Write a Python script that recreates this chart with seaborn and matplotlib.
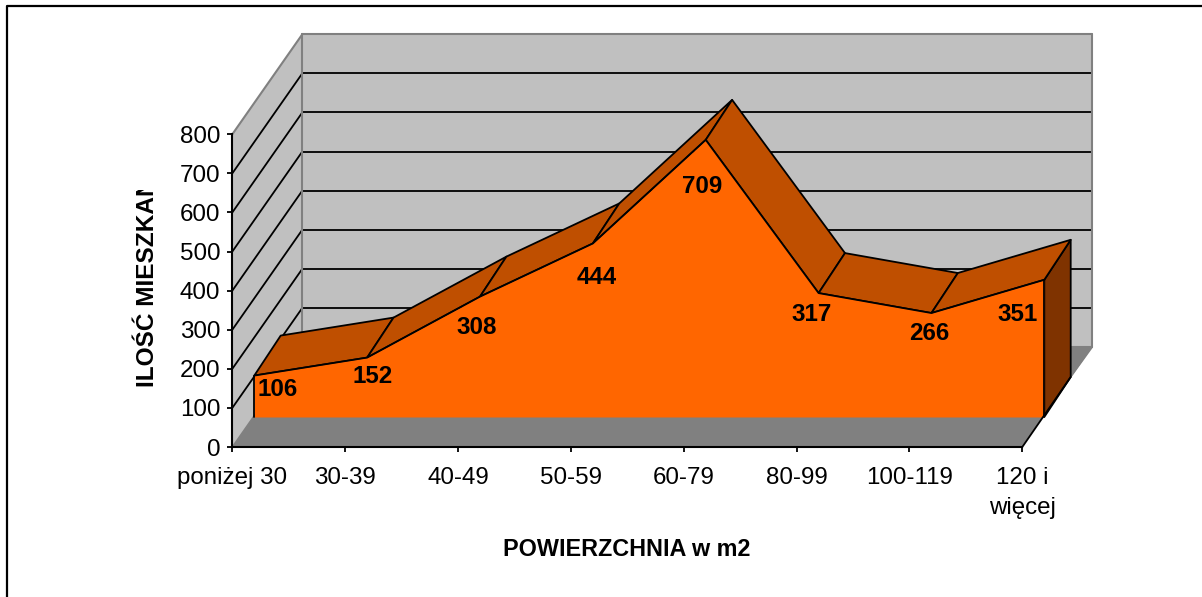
import numpy as np
import pandas as pd
import seaborn as sns
import matplotlib
matplotlib.use("Agg")
import matplotlib.pyplot as plt
from matplotlib.lines import Line2D
from matplotlib.patches import Polygon
from matplotlib.transforms import Affine2D, Bbox, IdentityTransform

categories = ["poniżej 30", "30-39", "40-49", "50-59", "60-79", "80-99", "100-119", "120 i\nwięcej"]
flats = [106, 152, 308, 444, 709, 317, 266, 351]
y_ticks = [0, 100, 200, 300, 400, 500, 600, 700, 800]
x_title = "POWIERZCHNIA w m2"
y_title = "ILOŚĆ MIESZKAŃ"

sns.set_theme(style="white")
plt.rcParams["font.family"] = ["Liberation Sans", "DejaVu Sans"]

W, H = 1202, 597
fig = plt.figure(figsize=(W / 100, H / 100), dpi=100, facecolor="white")
ax = fig.add_axes([232.3 / W, (H - 447) / H, 790 / W, 312.7 / H])
ax.set_xlim(0, 7)
ax.set_ylim(0, 800)
ax.patch.set_visible(False)

pos = np.arange(len(flats))
data = pd.DataFrame({"pos": pos, "flats": flats})

# fake 3d: each depth is a pixel shift of the front plane
WALL = (70, 100)
FRONT = (22, 30)
BACK = (48.4, 70)
EDGE = 1.3
px = IdentityTransform()


def at(x, y, depth=(0, 0)):
    return ax.transData.transform((x, y)) + np.array(depth)


def face(points, color, edge="none", lw=EDGE, z=2):
    ax.add_patch(Polygon(points, closed=True, facecolor=color, edgecolor=edge, linewidth=lw,
                         transform=px, clip_on=False, zorder=z, joinstyle="round"))


def line(a, b, color="black", lw=EDGE, z=2):
    ax.add_line(Line2D([a[0], b[0]], [a[1], b[1]], color=color, linewidth=lw,
                       transform=px, clip_on=False, zorder=z))


# walls and floor
face([at(0, 0), at(0, 800), at(0, 800, WALL), at(0, 0, WALL)], "#C0C0C0", z=1)
face([at(0, 0, WALL), at(0, 800, WALL), at(7, 800, WALL), at(7, 0, WALL)], "#C0C0C0", z=1)
face([at(0, 0), at(7, 0), at(7, 0, WALL), at(0, 0, WALL)], "#808080", z=1)
for t in y_ticks[1:-1]:
    line(at(0, t), at(0, t, WALL), z=1.2)
    line(at(0, t, WALL), at(7, t, WALL), z=1.2)
grey = "#808080"
line(at(0, 800), at(0, 800, WALL), grey, 1.5, 1.3)
line(at(0, 800, WALL), at(7, 800, WALL), grey, 1.5, 1.3)
line(at(0, 0, WALL), at(0, 800, WALL), grey, 1.5, 1.3)
line(at(7, 0, WALL), at(7, 800, WALL), grey, 1.5, 1.3)
line(at(0, 0, WALL), at(7, 0, WALL), grey, 1.5, 1.3)
line(at(0, 0), at(0, 0, WALL), grey, 1.1, 1.3)
line(at(7, 0), at(7, 0, BACK), "black", EDGE, 2.6)
line(at(7, 0, BACK), at(7, 0, WALL), grey, 1.1, 1.3)

# right end and top of the area
last = len(flats) - 1
face([at(last, 0, FRONT), at(last, flats[last], FRONT), at(last, flats[last], BACK), at(last, 0, BACK)],
     "#7F3300", "black", z=2)
for i in range(last):
    face([at(i, flats[i], FRONT), at(i + 1, flats[i + 1], FRONT),
          at(i + 1, flats[i + 1], BACK), at(i, flats[i], BACK)], "#BF4F00", "black", z=2.1)

# front of the area
front = ax.transData + Affine2D().translate(*FRONT)
ax.fill_between(pos, 0, flats, color="#FF6600", linewidth=0, transform=front, clip_on=False, zorder=2.2)
sns.lineplot(data=data, x="pos", y="flats", color="black", linewidth=EDGE, sort=False, errorbar=None,
             transform=front, clip_on=False, zorder=2.3, ax=ax)
line(at(0, 0, FRONT), at(0, flats[0], FRONT), z=2.3)
line(at(last, 0, FRONT), at(last, flats[last], FRONT), z=2.3)

# labels are placed by hand around the points, like the original
label_shift = [(23, -14), (5, -19), (-3, -31), (4, -34), (-4, -47), (-7, -21), (-2, -20), (-27, -35)]
for i, v in enumerate(flats):
    ax.annotate(str(v), xy=(i, v), xycoords=front, xytext=label_shift[i], textcoords="offset pixels",
                ha="center", va="center", fontsize=17.4, fontweight="bold", color="black",
                annotation_clip=False, zorder=4)

ax.set_xticks(pos)
ax.set_xticklabels(categories, fontsize=17.4, color="black", linespacing=1.5)
ax.set_yticks(y_ticks)
ax.set_yticklabels([str(t) for t in y_ticks], fontsize=17.4, color="black")
ax.tick_params(axis="both", length=3.6, width=1.3, color="black", bottom=True, left=True)
ax.tick_params(axis="x", pad=10.5)
ax.tick_params(axis="y", pad=5)
ax.set_xlabel("")
ax.set_ylabel("")
sns.despine(ax=ax)
for side in ["left", "bottom"]:
    ax.spines[side].set_color("black")
    ax.spines[side].set_linewidth(1.5)
    ax.spines[side].set_zorder(3)

fig.text(627 / W, 1 - 550 / H, x_title, ha="center", va="center", fontsize=16.8, fontweight="bold", color="black")
yt = fig.text(147 / W, 1 - 387 / H, y_title, rotation=90, ha="center", va="bottom",
              fontsize=17.6, fontweight="bold", color="black")
yt.set_clip_on(True)
yt.set_clip_box(Bbox([[120, H - 392], [180, H - 190]]))

# chart frame, open on the right and at the bottom
fig.add_artist(Line2D([6.5 / W, 6.5 / W, 1], [0, 1 - 6 / H, 1 - 6 / H], color="black", linewidth=1.6,
                      transform=fig.transFigure))

fig.savefig("out.png", dpi=100, facecolor="white")
